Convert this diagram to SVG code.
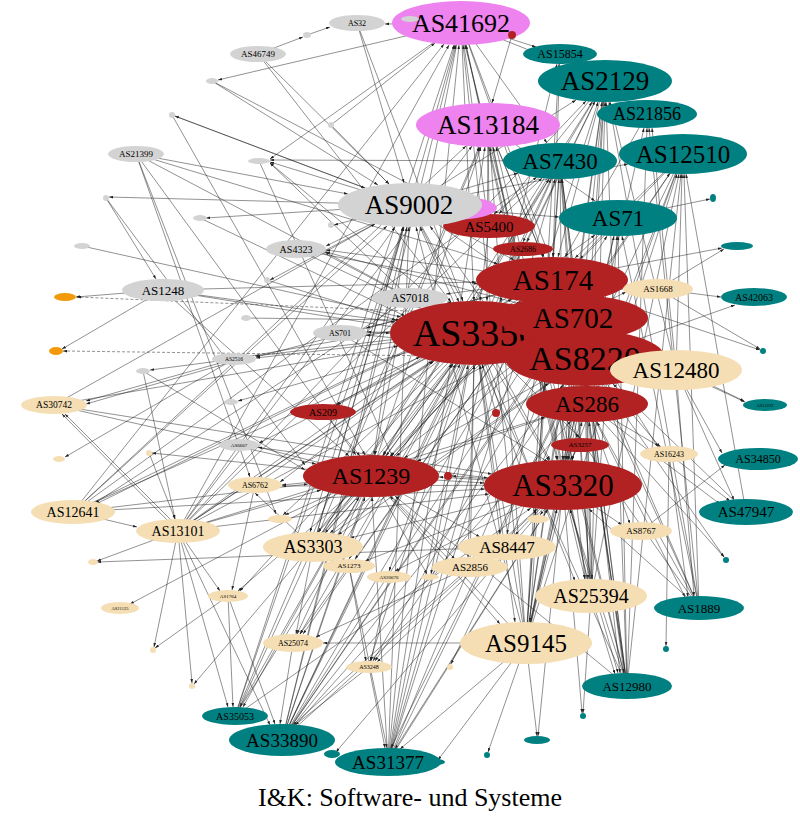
<svg xmlns="http://www.w3.org/2000/svg" width="800" height="833" viewBox="0 0 800 833">
<style>
.e path{fill:none;stroke:#1a1a1a;stroke-width:.6;stroke-opacity:.8;marker-end:url(#a)}
.e path.d{stroke-dasharray:3 2}
.g{fill:#d3d3d3}.v{fill:#ee82ee}.r{fill:#b22222}.t{fill:#008080}.w{fill:#f5deb3}.o{fill:#f29a0c}
text{font-family:"Liberation Serif","Times New Roman",serif;text-anchor:middle;dominant-baseline:central;fill:#000}
</style>
<defs>
<marker id="a" viewBox="0 0 6 4" refX="6" refY="2" markerWidth="4" markerHeight="3" orient="auto" markerUnits="userSpaceOnUse"><path d="M0 0L6 2L0 4z" fill="#222"/></marker>
</defs>
<rect width="800" height="833" fill="#fff"/>
<g id="edges" class="e">
<path d="M357 23L463 301"/><path d="M258 54L451 302"/><path d="M136 154L426 307"/><path d="M163 290L395 322"/><path d="M296 249L421 308"/><path d="M340 333L390 333"/><path d="M178 531L433 361"/><path d="M313 547L452 364"/><path d="M526 643L480 365"/><path d="M282 740L460 364"/><path d="M388 762L468 365"/><path d="M461 23L474 301"/><path d="M488 125L487 301"/><path d="M54 405L398 346"/><path d="M73 512L420 357"/><path d="M235 716L456 364"/><path d="M410 205L459 302"/><path d="M371 476L453 364"/><path d="M255 485L434 361"/><path d="M470 567L474 365"/><path d="M82 246L401 317"/>
<path d="M605 81L558 257"/><path d="M560 161L553 257"/><path d="M683 154L575 258"/><path d="M618 218L580 259"/><path d="M647 114L565 257"/><path d="M461 23L544 257"/><path d="M488 125L543 257"/><path d="M410 205L514 260"/><path d="M178 531L521 301"/><path d="M526 643L550 303"/><path d="M282 740L539 303"/><path d="M136 154L498 264"/><path d="M163 290L476 282"/><path d="M73 512L512 299"/><path d="M560 54L553 257"/><path d="M313 547L532 302"/><path d="M552 280L722 248"/>
<path d="M605 81L576 295"/><path d="M683 154L588 296"/><path d="M560 161L571 295"/><path d="M461 23L564 295"/><path d="M526 643L570 341"/><path d="M591 596L574 341"/><path d="M282 740L558 340"/><path d="M388 762L564 341"/><path d="M178 531L536 338"/><path d="M410 205L543 297"/><path d="M627 686L576 341"/><path d="M699 608L583 341"/>
<path d="M605 81L587 330"/><path d="M683 154L598 330"/><path d="M560 161L581 330"/><path d="M618 218L592 330"/><path d="M488 125L573 330"/><path d="M526 643L579 386"/><path d="M591 596L586 386"/><path d="M627 686L589 386"/><path d="M699 608L598 386"/><path d="M746 512L613 384"/><path d="M388 762L572 386"/><path d="M507 547L574 386"/><path d="M282 740L563 385"/><path d="M313 547L549 383"/><path d="M163 290L512 346"/>
<path d="M560 161L563 460"/><path d="M683 154L572 460"/><path d="M605 81L566 460"/><path d="M461 23L557 460"/><path d="M488 125L558 460"/><path d="M410 205L550 460"/><path d="M282 740L537 509"/><path d="M388 762L548 509"/><path d="M627 686L570 509"/><path d="M526 643L557 509"/><path d="M699 608L589 509"/><path d="M178 531L489 494"/><path d="M73 512L485 489"/><path d="M235 716L531 508"/><path d="M54 405L492 474"/><path d="M563 485L538 736"/>
<path d="M410 205L374 455"/><path d="M461 23L375 455"/><path d="M605 81L383 455"/><path d="M560 161L383 456"/><path d="M683 154L391 456"/><path d="M136 154L356 455"/><path d="M163 290L349 456"/><path d="M526 643L390 496"/><path d="M282 740L365 497"/><path d="M388 762L372 497"/><path d="M235 716L359 497"/><path d="M73 512L308 484"/><path d="M178 531L321 490"/><path d="M627 686L395 496"/><path d="M54 405L316 464"/>
<path d="M605 81L588 386"/><path d="M560 161L585 386"/><path d="M683 154L594 386"/><path d="M526 643L582 422"/><path d="M282 740L571 421"/><path d="M627 686L589 422"/><path d="M699 608L597 422"/><path d="M178 531L545 417"/>
<path d="M357 23L404 183"/><path d="M258 54L389 184"/><path d="M212 81L378 185"/><path d="M172 115L365 188"/><path d="M136 154L348 194"/><path d="M178 531L395 227"/><path d="M73 512L387 226"/><path d="M313 547L404 227"/><path d="M282 740L407 227"/><path d="M388 762L409 227"/><path d="M526 643L416 227"/><path d="M54 405L375 224"/><path d="M235 716L403 227"/>
<path d="M282 740L456 45"/><path d="M388 762L459 45"/><path d="M526 643L463 45"/><path d="M178 531L449 45"/><path d="M313 547L455 45"/><path d="M591 596L466 45"/><path d="M235 716L454 45"/><path d="M73 512L444 44"/><path d="M627 686L465 45"/>
<path d="M282 740L481 147"/><path d="M388 762L485 147"/><path d="M526 643L490 147"/><path d="M178 531L472 146"/><path d="M313 547L480 147"/><path d="M235 716L479 147"/><path d="M73 512L466 146"/><path d="M591 596L493 147"/><path d="M627 686L496 147"/>
<path d="M526 643L602 102"/><path d="M282 740L595 101"/><path d="M388 762L598 102"/><path d="M178 531L586 101"/><path d="M313 547L592 102"/><path d="M591 596L605 102"/><path d="M627 686L606 102"/><path d="M699 608L609 102"/><path d="M676 370L610 102"/>
<path d="M526 643L559 179"/><path d="M282 740L551 179"/><path d="M388 762L555 179"/><path d="M178 531L542 178"/><path d="M313 547L549 179"/><path d="M627 686L562 179"/><path d="M591 596L561 179"/><path d="M73 512L537 177"/>
<path d="M526 643L677 174"/><path d="M627 686L681 174"/><path d="M699 608L684 174"/><path d="M591 596L679 174"/><path d="M282 740L670 173"/><path d="M676 370L682 174"/><path d="M746 512L686 174"/>
<path d="M526 643L614 236"/><path d="M627 686L618 236"/><path d="M591 596L617 236"/><path d="M282 740L607 236"/><path d="M699 608L622 236"/><path d="M618 218L710 199"/><path d="M178 531L595 235"/>
<path d="M526 643L644 128"/><path d="M627 686L647 128"/><path d="M699 608L649 128"/><path d="M676 370L652 128"/><path d="M526 643L559 64"/><path d="M388 762L557 64"/>
<path d="M461 23L385 24"/><path d="M307 35L330 27"/><path d="M258 54L303 37"/><path d="M461 23L218 80"/><path d="M410 205L175 116"/><path d="M331 125L435 43"/><path d="M331 125L389 184"/><path d="M461 23L270 159"/><path d="M410 205L270 162"/><path d="M410 298L270 163"/><path d="M475 333L270 163"/><path d="M560 161L270 160"/><path d="M410 205L109 197"/><path d="M106 198L156 279"/><path d="M136 154L250 477"/><path d="M136 154L276 514"/><path d="M172 115L365 455"/><path d="M212 81L468 215"/><path d="M410 205L206 218"/><path d="M410 205L334 225"/><path d="M410 205L326 246"/><path d="M552 280L326 250"/><path d="M475 333L325 252"/><path d="M573 318L326 252"/><path d="M410 205L270 280"/>
<path d="M163 290L76 297"/><path class="d" d="M573 318L77 297"/><path d="M163 290L62 349"/><path class="d" d="M585 358L63 351"/>
<path d="M475 333L256 358"/><path d="M552 280L256 357"/><path d="M573 318L255 356"/><path d="M234 359L86 401"/><path d="M232 362L86 404"/><path d="M234 359L150 370"/><path d="M143 371L175 519"/><path d="M475 333L238 401"/><path d="M475 333L259 443"/><path d="M371 476L258 447"/><path d="M234 359L65 457"/><path d="M371 476L152 453"/><path d="M149 453L175 519"/><path d="M178 531L62 414"/><path d="M181 530L65 414"/><path d="M73 512L137 527"/><path d="M410 298L95 503"/><path d="M552 280L96 504"/><path d="M178 531L97 561"/><path d="M507 547L97 562"/><path d="M371 476L130 604"/><path d="M228 596L155 648"/><path d="M178 531L154 647"/><path d="M371 476L194 684"/><path d="M178 531L192 683"/>
<path d="M178 531L220 591"/><path d="M255 485L232 590"/><path d="M475 333L240 591"/><path d="M371 476L238 591"/><path d="M349 566L300 634"/><path d="M313 547L296 634"/><path d="M470 567L316 637"/><path d="M526 643L323 643"/><path d="M475 333L300 634"/><path d="M552 280L303 634"/><path d="M371 476L297 634"/><path d="M349 566L366 661"/><path d="M389 577L371 661"/><path d="M475 333L370 661"/><path d="M573 318L373 661"/><path d="M563 485L377 662"/><path d="M585 358L375 661"/><path d="M228 596L233 707"/><path d="M178 531L228 707"/><path d="M313 547L240 707"/><path d="M371 476L243 707"/><path d="M293 643L280 724"/><path d="M369 667L295 725"/><path d="M228 596L275 724"/><path d="M178 531L270 725"/><path d="M470 567L293 725"/><path d="M349 566L387 748"/><path d="M369 667L385 748"/><path d="M526 643L400 749"/><path d="M563 485L395 749"/><path d="M585 358L391 748"/><path d="M563 485L336 752"/><path d="M526 643L438 760"/><path d="M526 643L488 752"/><path d="M526 643L537 736"/>
<path d="M552 280L325 533"/><path d="M475 333L318 532"/><path d="M573 318L330 533"/><path d="M585 358L338 535"/><path d="M371 476L318 532"/><path d="M563 485L350 538"/><path d="M410 205L310 532"/><path d="M475 333L500 534"/><path d="M552 280L507 534"/><path d="M563 485L515 535"/><path d="M371 476L480 537"/><path d="M475 333L468 557"/><path d="M371 476L455 559"/><path d="M475 333L349 559"/><path d="M552 280L355 559"/><path d="M563 485L365 561"/><path d="M475 333L389 571"/><path d="M563 485L395 571"/><path d="M475 333L536 515"/><path d="M563 485L540 515"/><path d="M371 476L427 574"/><path d="M475 333L431 574"/><path d="M507 547L451 664"/><path d="M475 333L283 515"/><path d="M371 476L285 515"/><path d="M371 476L282 485"/><path d="M475 333L280 482"/><path d="M563 485L282 486"/><path d="M313 547L255 493"/>
<path d="M658 289L724 249"/><path d="M658 289L721 297"/><path d="M585 358L735 305"/><path d="M658 289L760 349"/><path d="M552 280L760 350"/><path d="M676 370L745 402"/><path d="M573 318L744 401"/><path d="M676 370L722 453"/><path d="M641 531L725 465"/><path d="M669 454L730 501"/><path d="M676 370L734 500"/><path d="M587 404L720 504"/><path d="M587 404L724 557"/><path d="M585 358L724 557"/><path d="M669 454L688 597"/><path d="M676 370L694 596"/><path d="M587 404L685 597"/><path d="M669 454L666 646"/><path d="M585 358L620 673"/><path d="M587 404L624 673"/><path d="M563 485L618 673"/><path d="M591 596L615 674"/><path d="M563 485L582 713"/><path d="M591 596L583 713"/><path d="M552 280L623 289"/><path d="M573 318L626 292"/><path d="M587 404L630 524"/><path d="M563 485L622 525"/><path d="M587 404L662 448"/><path d="M585 358L660 447"/><path d="M552 280L658 447"/><path d="M552 280L585 579"/><path d="M475 333L575 581"/><path d="M585 358L588 579"/><path d="M587 404L592 579"/><path d="M563 485L585 579"/><path d="M475 333L515 622"/><path d="M371 476L500 624"/><path d="M552 280L530 622"/>
<path d="M605 81L499 214"/><path d="M560 161L494 214"/><path d="M461 23L487 214"/><path d="M488 125L489 214"/><path d="M560 161L523 242"/><path d="M605 81L527 242"/><path d="M461 23L564 64"/><path d="M461 23L536 47"/><path d="M461 23L547 143"/><path d="M488 125L595 201"/><path d="M410 205L518 173"/><path d="M410 205L559 217"/><path d="M410 205L628 164"/><path d="M410 205L576 100"/><path d="M627 686L420 227"/><path d="M699 608L430 226"/><path d="M512 35L492 103"/><path d="M496 413L482 364"/><path d="M563 485L452 476"/>
<path d="M475 333L386 456"/><path d="M552 280L390 456"/><path d="M573 318L396 456"/><path d="M585 358L404 458"/><path d="M587 404L417 461"/><path d="M563 485L439 477"/><path d="M371 476L484 483"/><path d="M552 280L563 460"/><path d="M573 318L565 460"/><path d="M475 333L549 461"/><path d="M585 358L567 460"/><path d="M587 404L568 460"/><path d="M580 445L570 460"/><path d="M475 333L337 405"/><path d="M552 280L336 405"/><path d="M323 412L360 456"/><path d="M489 226L480 301"/><path d="M523 249L500 302"/><path d="M475 333L432 307"/><path d="M552 280L446 294"/><path d="M573 318L447 302"/><path d="M475 333L367 332"/><path d="M552 280L366 328"/><path d="M585 358L366 335"/><path d="M475 333L580 438"/><path d="M552 280L577 438"/>
<path d="M296 249L478 284"/><path d="M234 359L550 303"/><path d="M340 333L548 462"/><path d="M239 445L488 478"/><path d="M245 318L400 320"/><path d="M143 371L305 470"/><path d="M267 280L396 320"/><path d="M200 218L405 316"/><path d="M106 198L305 465"/><path d="M259 161L393 458"/>
</g>
<g id="n_g1"><ellipse class="g" cx="307" cy="35" rx="4" ry="3"/></g>
<g id="AS32"><ellipse class="g" cx="357" cy="23" rx="28" ry="8"/><text x="357" y="23" font-size="8">AS32</text></g>
<g id="AS46749"><ellipse class="g" cx="258" cy="54" rx="28" ry="8"/><text x="258" y="54" font-size="9">AS46749</text></g>
<g id="n_g2"><ellipse class="g" cx="212" cy="81" rx="6" ry="3"/></g>
<g id="n_g3"><ellipse class="g" cx="172" cy="115" rx="3" ry="3"/></g>
<g id="AS21399"><ellipse class="g" cx="136" cy="154" rx="28" ry="8"/><text x="136" y="154" font-size="9">AS21399</text></g>
<g id="n_g4"><ellipse class="g" cx="331" cy="125" rx="3" ry="3"/></g>
<g id="n_g5"><ellipse class="g" cx="259" cy="161" rx="11" ry="3"/></g>
<g id="n_g6"><ellipse class="g" cx="106" cy="198" rx="3" ry="3"/></g>
<g id="n_g7"><ellipse class="g" cx="200" cy="218" rx="7" ry="3"/></g>
<g id="n_g8"><ellipse class="g" cx="82" cy="246" rx="8" ry="3"/></g>
<g id="n_g9"><ellipse class="g" cx="331" cy="225" rx="3" ry="3"/></g>
<g id="n_g10"><ellipse class="g" cx="267" cy="280" rx="3" ry="3"/></g>
<g id="AS4323"><ellipse class="g" cx="296" cy="249" rx="30" ry="9"/><text x="296" y="249" font-size="10">AS4323</text></g>
<g id="AS1248"><ellipse class="g" cx="163" cy="290" rx="41" ry="11"/><text x="163" y="290" font-size="13">AS1248</text></g>
<g id="AS7018"><ellipse class="g" cx="410" cy="298" rx="38" ry="10"/><text x="410" y="298" font-size="11.5">AS7018</text></g>
<g id="AS701"><ellipse class="g" cx="340" cy="333" rx="27" ry="8"/><text x="340" y="333" font-size="8">AS701</text></g>
<g id="AS2516"><ellipse class="g" cx="234" cy="359" rx="22" ry="6"/><text x="234" y="359" font-size="5.5">AS2516</text></g>
<g id="n_g11"><ellipse class="g" cx="246" cy="318" rx="5" ry="3"/></g>
<g id="n_g12"><ellipse class="g" cx="143" cy="371" rx="7" ry="3"/></g>
<g id="n_g13"><ellipse class="g" cx="231" cy="402" rx="7" ry="3"/></g>
<g id="AS6667"><ellipse class="g" cx="239" cy="445" rx="20" ry="6"/><text x="239" y="445" font-size="5">AS6667</text></g>
<g id="n_o1"><ellipse class="o" cx="65" cy="297" rx="11" ry="4"/></g>
<g id="n_o2"><ellipse class="o" cx="56" cy="351" rx="7" ry="4"/></g>
<g id="AS41692"><ellipse class="v" cx="461" cy="23" rx="69" ry="22"/><text x="461" y="23" font-size="26">AS41692</text></g>
<g id="n_g14"><ellipse class="g" cx="410" cy="19" rx="9" ry="3"/></g>
<g id="n_r1"><ellipse class="r" cx="512" cy="35" rx="4" ry="4"/></g>
<g id="AS13184"><ellipse class="v" cx="488" cy="125" rx="72" ry="22"/><text x="488" y="125" font-size="27">AS13184</text></g>
<g id="AS15854"><ellipse class="t" cx="560" cy="54" rx="37" ry="10"/><text x="560" y="54" font-size="12">AS15854</text></g>
<g id="AS2129"><ellipse class="t" cx="605" cy="81" rx="67" ry="21"/><text x="605" y="81" font-size="27">AS2129</text></g>
<g id="AS21856"><ellipse class="t" cx="647" cy="114" rx="50" ry="14"/><text x="647" y="114" font-size="18">AS21856</text></g>
<g id="AS7430"><ellipse class="t" cx="560" cy="161" rx="57" ry="18"/><text x="560" y="161" font-size="23">AS7430</text></g>
<g id="AS12510"><ellipse class="t" cx="683" cy="154" rx="64" ry="20"/><text x="683" y="154" font-size="25">AS12510</text></g>
<g id="AS71"><ellipse class="t" cx="618" cy="218" rx="59" ry="18"/><text x="618" y="218" font-size="23">AS71</text></g>
<g id="n_t1"><ellipse class="t" cx="713" cy="198" rx="3" ry="4"/></g>
<g id="n_t2"><ellipse class="t" cx="737" cy="246" rx="16" ry="4"/></g>
<g id="AS42063"><ellipse class="t" cx="754" cy="297" rx="33" ry="9"/><text x="754" y="297" font-size="10">AS42063</text></g>
<g id="n_t3"><ellipse class="t" cx="763" cy="351" rx="3" ry="3"/></g>
<g id="AS13232"><ellipse class="t" cx="765" cy="405" rx="22" ry="6"/><text x="765" y="405" font-size="4.5">AS13232</text></g>
<g id="AS34850"><ellipse class="t" cx="758" cy="459" rx="40" ry="11"/><text x="758" y="459" font-size="12">AS34850</text></g>
<g id="AS47947"><ellipse class="t" cx="746" cy="512" rx="47" ry="13"/><text x="746" y="512" font-size="15">AS47947</text></g>
<g id="n_t4"><ellipse class="t" cx="726" cy="560" rx="3" ry="3"/></g>
<g id="AS1889"><ellipse class="t" cx="699" cy="608" rx="45" ry="12"/><text x="699" y="608" font-size="13">AS1889</text></g>
<g id="n_t5"><ellipse class="t" cx="666" cy="649" rx="3" ry="3"/></g>
<g id="AS12980"><ellipse class="t" cx="627" cy="686" rx="45" ry="13"/><text x="627" y="686" font-size="13">AS12980</text></g>
<g id="n_t6"><ellipse class="t" cx="583" cy="716" rx="3" ry="3"/></g>
<g id="n_t7"><ellipse class="t" cx="537" cy="740" rx="13" ry="4"/></g>
<g id="n_t8"><ellipse class="t" cx="487" cy="755" rx="3" ry="3"/></g>
<g id="AS35053"><ellipse class="t" cx="235" cy="716" rx="33" ry="9"/><text x="235" y="716" font-size="10">AS35053</text></g>
<g id="AS33890"><ellipse class="t" cx="282" cy="740" rx="53" ry="16"/><text x="282" y="740" font-size="19">AS33890</text></g>
<g id="n_t10"><ellipse class="t" cx="332" cy="754" rx="8" ry="4"/></g>
<g id="AS31377"><ellipse class="t" cx="388" cy="762" rx="53" ry="14"/><text x="388" y="762" font-size="19">AS31377</text></g>
<g id="n_t9"><ellipse class="t" cx="437" cy="762" rx="8" ry="3"/></g>
<g id="AS30742"><ellipse class="w" cx="54" cy="405" rx="33" ry="9"/><text x="54" y="405" font-size="9.5">AS30742</text></g>
<g id="n_w5"><ellipse class="w" cx="59" cy="459" rx="6" ry="3"/></g>
<g id="n_w6"><ellipse class="w" cx="149" cy="453" rx="3" ry="3"/></g>
<g id="AS12641"><ellipse class="w" cx="73" cy="512" rx="42" ry="12"/><text x="73" y="512" font-size="14">AS12641</text></g>
<g id="AS13101"><ellipse class="w" cx="178" cy="531" rx="42" ry="12"/><text x="178" y="531" font-size="14">AS13101</text></g>
<g id="n_w7"><ellipse class="w" cx="93" cy="562" rx="5" ry="3"/></g>
<g id="AS21125"><ellipse class="w" cx="120" cy="608" rx="19" ry="6"/><text x="120" y="608" font-size="4.5">AS21125</text></g>
<g id="n_w8"><ellipse class="w" cx="153" cy="650" rx="3" ry="3"/></g>
<g id="n_w9"><ellipse class="w" cx="192" cy="686" rx="3" ry="3"/></g>
<g id="AS1764"><ellipse class="w" cx="228" cy="596" rx="20" ry="6"/><text x="228" y="596" font-size="5">AS1764</text></g>
<g id="AS6762"><ellipse class="w" cx="255" cy="485" rx="27" ry="8"/><text x="255" y="485" font-size="8">AS6762</text></g>
<g id="n_w4"><ellipse class="w" cx="280" cy="519" rx="12" ry="4"/></g>
<g id="AS25074"><ellipse class="w" cx="293" cy="643" rx="30" ry="9"/><text x="293" y="643" font-size="8">AS25074</text></g>
<g id="AS3248"><ellipse class="w" cx="369" cy="667" rx="23" ry="6"/><text x="369" y="667" font-size="6">AS3248</text></g>
<g id="n_w3"><ellipse class="w" cx="450" cy="667" rx="3" ry="3"/></g>
<g id="AS5400"><ellipse class="r" cx="489" cy="226" rx="46" ry="12"/><text x="489" y="227" font-size="15">AS5400</text></g>
<g id="n_v1"><ellipse class="v" cx="452" cy="208" rx="45" ry="12"/></g>
<g id="AS9002"><ellipse class="g" cx="410" cy="205" rx="72" ry="22"/><text x="409" y="205" font-size="27">AS9002</text></g>
<g id="AS2686"><ellipse class="r" cx="523" cy="249" rx="30" ry="7"/><text x="523" y="249" font-size="8">AS2686</text></g>
<g id="AS3356"><ellipse class="r" cx="475" cy="333" rx="85" ry="32"/><text x="475" y="333" font-size="38">AS3356</text></g>
<g id="AS174"><ellipse class="r" cx="552" cy="280" rx="76" ry="23"/><text x="553" y="280" font-size="29">AS174</text></g>
<g id="AS702"><ellipse class="r" cx="573" cy="318" rx="75" ry="23"/><text x="573" y="318" font-size="29">AS702</text></g>
<g id="AS8220"><ellipse class="r" cx="585" cy="358" rx="80" ry="28"/><text x="585" y="358" font-size="34">AS8220</text></g>
<g id="AS286"><ellipse class="r" cx="587" cy="404" rx="61" ry="18"/><text x="587" y="404" font-size="23">AS286</text></g>
<g id="AS12480"><ellipse class="w" cx="676" cy="370" rx="66" ry="20"/><text x="676" y="370" font-size="23">AS12480</text></g>
<g id="AS1668"><ellipse class="w" cx="658" cy="289" rx="35" ry="10"/><text x="658" y="289" font-size="9">AS1668</text></g>
<g id="AS209"><ellipse class="r" cx="323" cy="412" rx="33" ry="8"/><text x="323" y="412" font-size="10">AS209</text></g>
<g id="n_r2"><ellipse class="r" cx="496" cy="413" rx="4" ry="4"/></g>
<g id="AS3257"><ellipse class="r" cx="580" cy="445" rx="29" ry="7"/><text x="580" y="445" font-size="7">AS3257</text></g>
<g id="AS1239"><ellipse class="r" cx="371" cy="476" rx="68" ry="21"/><text x="371" y="476" font-size="24">AS1239</text></g>
<g id="n_r3"><ellipse class="r" cx="448" cy="476" rx="4" ry="4"/></g>
<g id="AS3320"><ellipse class="r" cx="563" cy="485" rx="79" ry="25"/><text x="563" y="485" font-size="31">AS3320</text></g>
<g id="AS16243"><ellipse class="w" cx="669" cy="454" rx="29" ry="8"/><text x="669" y="454" font-size="8">AS16243</text></g>
<g id="AS8767"><ellipse class="w" cx="641" cy="531" rx="31" ry="9"/><text x="641" y="531" font-size="9">AS8767</text></g>
<g id="n_w1"><ellipse class="w" cx="538" cy="519" rx="11" ry="4"/></g>
<g id="AS3303"><ellipse class="w" cx="313" cy="547" rx="50" ry="15"/><text x="313" y="547" font-size="18">AS3303</text></g>
<g id="AS1273"><ellipse class="w" cx="349" cy="566" rx="26" ry="7"/><text x="349" y="566" font-size="7">AS1273</text></g>
<g id="AS20676"><ellipse class="w" cx="389" cy="577" rx="22" ry="6"/><text x="389" y="577" font-size="5">AS20676</text></g>
<g id="AS8447"><ellipse class="w" cx="507" cy="547" rx="49" ry="13"/><text x="507" y="547" font-size="17">AS8447</text></g>
<g id="AS2856"><ellipse class="w" cx="470" cy="567" rx="38" ry="10"/><text x="470" y="567" font-size="11">AS2856</text></g>
<g id="n_w2"><ellipse class="w" cx="430" cy="577" rx="9" ry="3"/></g>
<g id="AS25394"><ellipse class="w" cx="591" cy="596" rx="56" ry="17"/><text x="591" y="596" font-size="20">AS25394</text></g>
<g id="AS9145"><ellipse class="w" cx="526" cy="643" rx="66" ry="21"/><text x="526" y="643" font-size="25">AS9145</text></g>
<text id="title" x="410" y="797" font-size="26">I&amp;K: Software- und Systeme</text>
</svg>
